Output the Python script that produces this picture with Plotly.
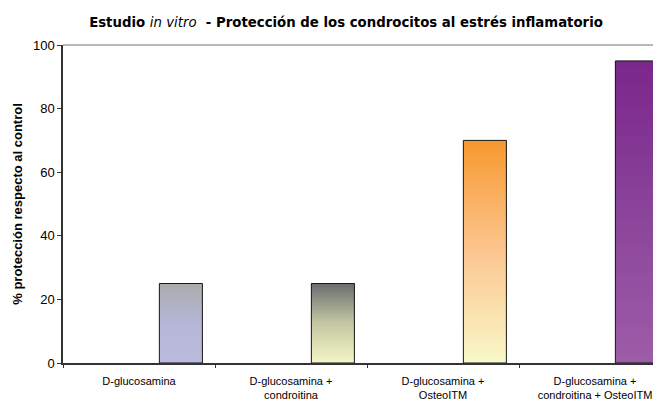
import plotly.graph_objects as go

# ---- data ----
categories = [
    "D-glucosamina",
    "D-glucosamina +<br>condroitina",
    "D-glucosamina +<br>OsteoITM",
    "D-glucosamina +<br>condroitina + OsteoITM",
]
values = [25, 25, 70, 95]
y_ticks = [0, 20, 40, 60, 80, 100]

# gradient colours per bar: (bottom, middle, top)
bottom_colors = ["#bbbbdf", "#f4f6c6", "#f8f8c8", "#9d5ca8"]
middle_colors = ["#b6b6d8", "#c4c7a2", "#fcc690", "#8a449a"]
top_colors = ["#a9adad", "#6a6e70", "#f7982f", "#7b268b"]

title_html = ("<b>Estudio </b><i>in vitro</i>"
              "<b>  - Protección de los condrocitos al estrés inflamatorio</b>")
y_title = "<b>% protección respecto al control</b>"

FONT = "Arial, Liberation Sans, sans-serif"
TITLE_FONT = "DejaVu Sans, Arial, sans-serif"
N_SEG = 60
BAR_OFFSET = 0.134
BAR_WIDTH = 0.283

# page body has an 8px margin: the figure is sized to fit inside the window
FIG_W, FIG_H = 653, 398


def hex2rgb(h):
    h = h.lstrip("#")
    return [int(h[i:i + 2], 16) for i in (0, 2, 4)]


def mix(c1, c2, t):
    a, b = hex2rgb(c1), hex2rgb(c2)
    r = [round(a[i] + (b[i] - a[i]) * t) for i in range(3)]
    return "rgb(%d,%d,%d)" % tuple(r)


def grad_color(i, f):
    if f < 0.5:
        return mix(bottom_colors[i], middle_colors[i], f / 0.5)
    return mix(middle_colors[i], top_colors[i], (f - 0.5) / 0.5)


fig = go.Figure()

seg_x, seg_y, seg_base, seg_col = [], [], [], []
for i, (cat, v) in enumerate(zip(categories, values)):
    for k in range(N_SEG):
        f = k / N_SEG
        b = v * f
        seg_x.append(cat)
        seg_base.append(b)
        seg_y.append(v - b)
        seg_col.append(grad_color(i, f + 0.5 / N_SEG))

fig.add_trace(go.Bar(
    x=seg_x, y=seg_y, base=seg_base,
    marker=dict(color=seg_col, line=dict(width=0)),
    offset=BAR_OFFSET, width=BAR_WIDTH,
    hoverinfo="skip", showlegend=False,
))

# outline
fig.add_trace(go.Bar(
    x=categories, y=values,
    marker=dict(color="rgba(0,0,0,0)", line=dict(color="#1a1a1a", width=1)),
    offset=BAR_OFFSET, width=BAR_WIDTH,
    showlegend=False,
))

fig.update_layout(
    width=FIG_W, height=FIG_H,
    margin=dict(l=55, r=0, t=37, b=43, autoexpand=False),
    paper_bgcolor="white", plot_bgcolor="white",
    barmode="overlay",
    font=dict(family=FONT, color="black", size=11),
    title=dict(text=title_html, x=338 / FIG_W, xref="container", xanchor="center",
               y=1 - 14 / FIG_H, yref="container", yanchor="middle",
               font=dict(family=TITLE_FONT, size=13.3, color="black")),
    showlegend=False,
    shapes=[dict(type="line", xref="paper", yref="paper", x0=0, x1=1, y0=1, y1=1,
                 line=dict(color="#a0a0a0", width=1.5))],
)

fig.update_xaxes(
    type="category", categoryorder="array", categoryarray=categories,
    range=[-0.5, 3.5 - 10 / 152], automargin=False,
    tickson="boundaries", ticks="outside", ticklen=3, tickcolor="#333",
    showline=True, linecolor="#333", linewidth=1.5,
    showgrid=False, zeroline=False,
    tickfont=dict(family=FONT, size=11, color="black"),
    tickangle=0, ticklabelstandoff=7,
)

fig.update_yaxes(
    range=[0, 100], tickvals=y_ticks, ticks="outside", ticklen=4, tickcolor="#333",
    showline=True, linecolor="#333", linewidth=1.5, automargin=False,
    showgrid=False, zeroline=False,
    tickfont=dict(family=FONT, size=13, color="black"),
    title=dict(text=y_title, font=dict(family=FONT, size=13, color="black"), standoff=7),
)

fig.write_html("out.html")
